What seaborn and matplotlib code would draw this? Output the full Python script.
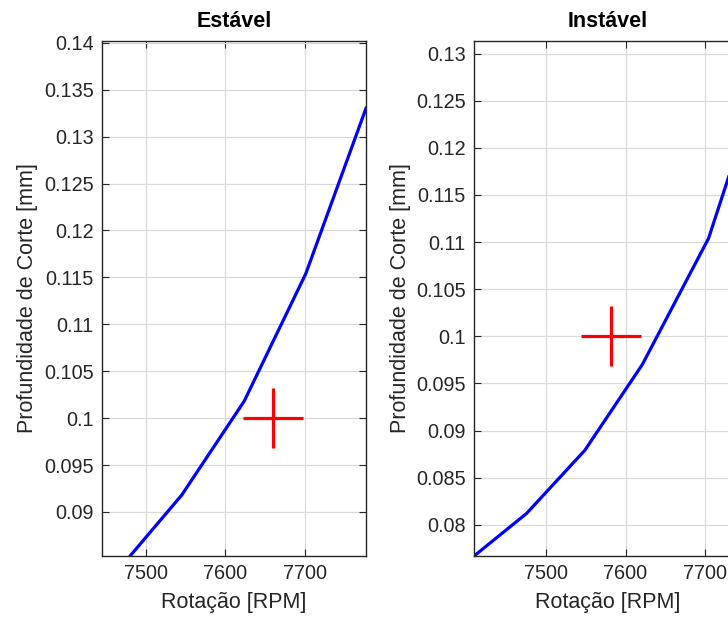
import matplotlib
matplotlib.use("Agg")
import matplotlib.pyplot as plt
import seaborn as sns
import pandas as pd

# ---- data ----
rpm_estavel = [7480, 7545, 7623.5, 7701, 7777]
prof_estavel = [0.0853, 0.0918, 0.1018, 0.1154, 0.1331]
ponto_estavel = (7660, 0.100)

rpm_instavel = [7410.5, 7476, 7549, 7621, 7704, 7780]
prof_instavel = [0.0767, 0.0812, 0.0879, 0.0970, 0.1104, 0.1301]
ponto_instavel = (7582, 0.100)

xlim_estavel = (7444.7, 7776.7)
ylim_estavel = (0.0853, 0.1402)
xlim_instavel = (7410.5, 7745.5)
ylim_instavel = (0.07668, 0.13134)

titles = ["Estável", "Instável"]
xlabel = "Rotação [RPM]"
ylabel = "Profundidade de Corte [mm]"

sns.set_style("whitegrid")
plt.rcParams["font.family"] = ["Liberation Sans", "DejaVu Sans"]

fig = plt.figure(figsize=(7.28, 6.23), dpi=100)
ax1 = fig.add_axes([102 / 728, 67 / 623, 264 / 728, 515 / 623])
ax2 = fig.add_axes([474.3 / 728, 67 / 623, 267.4 / 728, 515 / 623])

panels = [
    (ax1, rpm_estavel, prof_estavel, ponto_estavel, xlim_estavel, ylim_estavel,
     [0.09, 0.095, 0.1, 0.105, 0.11, 0.115, 0.12, 0.125, 0.13, 0.135, 0.14]),
    (ax2, rpm_instavel, prof_instavel, ponto_instavel, xlim_instavel, ylim_instavel,
     [0.08, 0.085, 0.09, 0.095, 0.1, 0.105, 0.11, 0.115, 0.12, 0.125, 0.13]),
]

tick_col = "#262626"
for (ax, xs, ys, pt, xl, yl, yt), title in zip(panels, titles):
    df = pd.DataFrame({"rpm": xs, "prof": ys})
    sns.lineplot(data=df, x="rpm", y="prof", ax=ax, color="#0000ff",
                 linewidth=2.3, sort=False, estimator=None)
    ax.plot([pt[0]], [pt[1]], marker="+", color="#ff0000", markersize=43,
            markeredgewidth=2.3, linestyle="none")
    ax.set_xlim(*xl)
    ax.set_ylim(*yl)
    ax.set_xticks([7500, 7600, 7700])
    ax.set_xticklabels(["7500", "7600", "7700"])
    ax.set_yticks(yt)
    ax.set_yticklabels([f"{v:g}" for v in yt])
    ax.grid(True, color="#d9d9d9", linewidth=0.9)
    for s in ax.spines.values():
        s.set_visible(True)
        s.set_color(tick_col)
        s.set_linewidth(1.0)
    ax.tick_params(direction="in", length=5, width=0.8, colors=tick_col,
                   labelsize=14.3, top=True, right=True, bottom=True, left=True,
                   labeltop=False, labelright=False, pad=6)
    ax.set_xlabel(xlabel, fontsize=15.5, color=tick_col, labelpad=6)
    ax.set_ylabel(ylabel, fontsize=15.5, color=tick_col, labelpad=4)
    ax.set_title(title, fontsize=15.5, fontweight="bold", color="black", pad=10)
    ax.set_facecolor("white")

fig.savefig("out.png", dpi=100, facecolor="white")
